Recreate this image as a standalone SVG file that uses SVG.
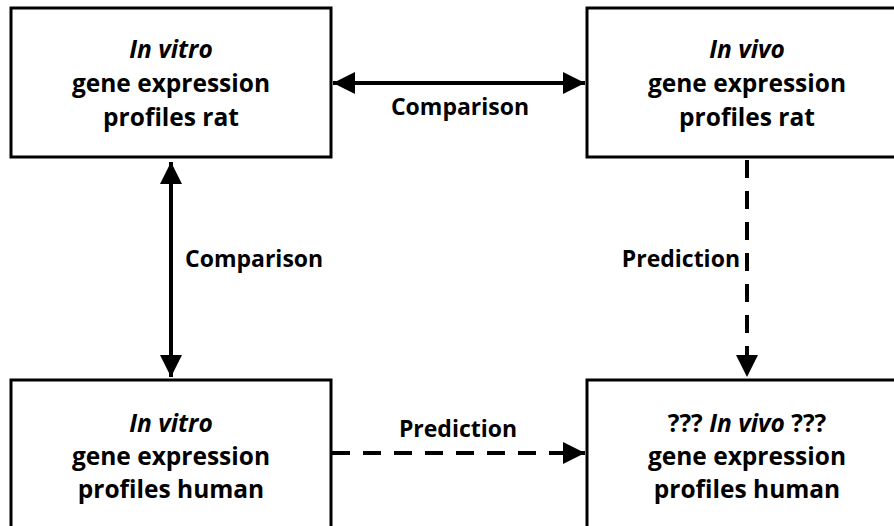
<svg xmlns="http://www.w3.org/2000/svg" width="894" height="526" viewBox="0 0 894 526">
<style>
.box{fill:#fff;stroke:#000;stroke-width:3}
.t{font-family:"Open Sans","Noto Sans","Liberation Sans",sans-serif;font-weight:700;font-size:24.5px;fill:#000;text-anchor:middle}
.lbl{font-family:"Open Sans","Noto Sans","Liberation Sans",sans-serif;font-weight:700;font-size:23px;fill:#000}
.solid{stroke:#000;stroke-width:4;fill:none}
.dash{stroke:#000;stroke-width:4;fill:none;stroke-dasharray:18 13}
</style>
<defs>
<marker id="ah" markerUnits="userSpaceOnUse" markerWidth="22" markerHeight="22" refX="22" refY="11" orient="auto-start-reverse" viewBox="0 0 22 22">
<polygon points="0,0 22,11 0,22" fill="#000"/>
</marker>
</defs>
<rect width="894" height="526" fill="#fff"/>
<g id="node-invitro-rat">
<rect class="box" x="11" y="8" width="320" height="149"/>
<text class="t" x="171" y="58"><tspan font-style="italic">In vitro</tspan></text>
<text class="t" x="171" y="92">gene expression</text>
<text class="t" x="171" y="126">profiles rat</text>
</g>
<g id="node-invivo-rat">
<rect class="box" x="587" y="8" width="320" height="149"/>
<text class="t" x="747" y="58"><tspan font-style="italic">In vivo</tspan></text>
<text class="t" x="747" y="92">gene expression</text>
<text class="t" x="747" y="126">profiles rat</text>
</g>
<g id="node-invitro-human">
<rect class="box" x="11" y="380" width="320" height="160"/>
<text class="t" x="171" y="432"><tspan font-style="italic">In vitro</tspan></text>
<text class="t" x="171" y="465">gene expression</text>
<text class="t" x="171" y="498">profiles human</text>
</g>
<g id="node-invivo-human">
<rect class="box" x="587" y="380" width="320" height="160"/>
<text class="t" x="747" y="432">??? <tspan font-style="italic">In vivo</tspan> ???</text>
<text class="t" x="747" y="465">gene expression</text>
<text class="t" x="747" y="498">profiles human</text>
</g>
<g id="connectors">
<line class="solid" x1="333" y1="83" x2="585" y2="83" marker-start="url(#ah)" marker-end="url(#ah)"/>
<line class="solid" x1="171" y1="162" x2="171" y2="377" marker-start="url(#ah)" marker-end="url(#ah)"/>
<line class="dash" x1="747" y1="160" x2="747" y2="377" marker-end="url(#ah)"/>
<line class="dash" x1="332" y1="453" x2="585" y2="453" marker-end="url(#ah)"/>
<text class="lbl" x="460" y="115" text-anchor="middle">Comparison</text>
<text class="lbl" x="185" y="267">Comparison</text>
<text class="lbl" x="740" y="267" text-anchor="end">Prediction</text>
<text class="lbl" x="458" y="437" text-anchor="middle">Prediction</text>
</g>
</svg>
